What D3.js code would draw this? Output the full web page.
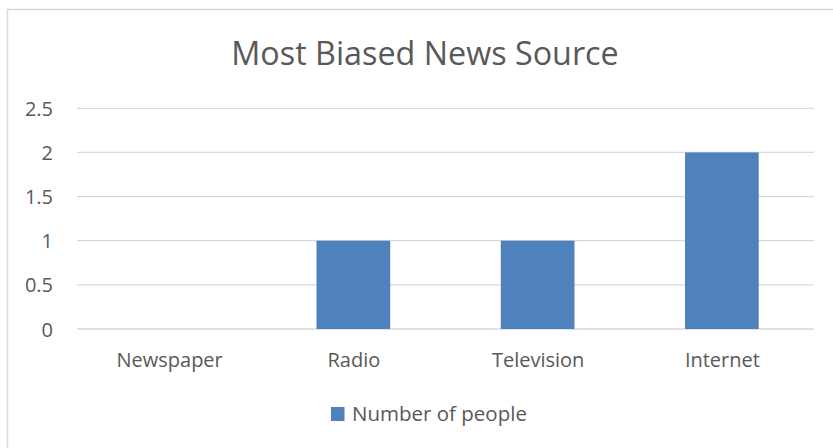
<!DOCTYPE html>
<html lang="en">
<head>
  <meta charset="UTF-8">
  <title>Most Biased News Source</title>
  <script src="https://d3js.org/d3.v7.min.js"></script>
  <style>
    body { margin: 0; background: #fff; }
    svg { display: block; font-family: "Open Sans", sans-serif; }
    .tick text { fill: #595959; font-size: 20px; font-family: "Open Sans", sans-serif; }
  </style>
</head>
<body>
  <svg id="chart" width="833" height="448"></svg>
  <script>
    const categories = ["Newspaper", "Radio", "Television", "Internet"];
    const values = [0, 1, 1, 2];
    const yTicks = [0, 0.5, 1, 1.5, 2, 2.5];
    const seriesName = "Number of people";
    const title = "Most Biased News Source";

    const svg = d3.select("#chart");
    const margin = { top: 108.3, right: 19, bottom: 119, left: 77 };
    const width = 833 - margin.left - margin.right;
    const height = 448 - margin.top - margin.bottom;

    // chart area border (only top and left visible in the crop)
    svg.append("rect")
      .attr("x", 7.5).attr("y", 9.5)
      .attr("width", 840).attr("height", 460)
      .attr("fill", "none")
      .attr("stroke", "#d9d9d9")
      .attr("stroke-width", 1.5);

    svg.append("text")
      .attr("x", 425)
      .attr("y", 64.5)
      .attr("text-anchor", "middle")
      .style("font-size", "32.3px")
      .style("fill", "#595959")
      .text(title);

    const x = d3.scaleBand()
      .domain(categories)
      .range([0, width])
      .paddingInner(0.6)
      .paddingOuter(0.3);

    const y = d3.scaleLinear()
      .domain([0, 2.5])
      .range([height, 0]);

    const g = svg.append("g")
      .attr("transform", `translate(${margin.left},${margin.top})`);

    // gridlines
    g.append("g")
      .selectAll("line")
      .data(yTicks)
      .enter()
      .append("line")
      .attr("x1", 0).attr("x2", width)
      .attr("y1", d => y(d)).attr("y2", d => y(d))
      .attr("stroke", "#d9d9d9")
      .attr("stroke-width", 1.3);

    const yAxis = g.append("g")
      .attr("transform", "translate(-24,0)")
      .call(d3.axisLeft(y).tickValues(yTicks).tickSize(0).tickPadding(0).tickFormat(d3.format("")));
    yAxis.select(".domain").remove();
    yAxis.selectAll("text").attr("dy", "0.35em");

    const xAxis = g.append("g")
      .attr("transform", `translate(0,${height})`)
      .call(d3.axisBottom(d3.scalePoint().domain(categories).range([0, width]).padding(0.5))
        .tickSize(0).tickPadding(0));
    xAxis.select(".domain").remove();
    xAxis.selectAll("text").attr("dy", "0").attr("y", 38);

    g.selectAll(".bar")
      .data(values)
      .enter()
      .append("rect")
      .attr("class", "bar")
      .attr("x", (d, i) => x(categories[i]))
      .attr("width", x.bandwidth())
      .attr("y", d => y(d))
      .attr("height", d => height - y(d))
      .attr("fill", "#4f81bd");

    // legend
    const legend = svg.append("g").attr("transform", "translate(331,407)");
    legend.append("rect")
      .attr("width", 13.5).attr("height", 14)
      .attr("fill", "#4f81bd");
    legend.append("text")
      .attr("x", 21).attr("y", 14)
      .style("font-size", "20.5px")
      .style("fill", "#595959")
      .text(seriesName);
  </script>
</body>
</html>
